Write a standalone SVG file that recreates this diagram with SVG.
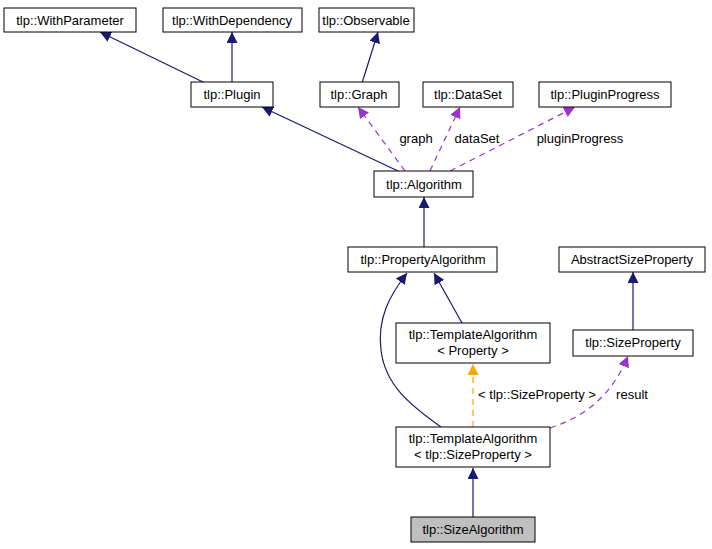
<svg xmlns="http://www.w3.org/2000/svg" width="712" height="549" viewBox="0 0 712 549">
<style>
rect{fill:#fff;stroke:#000;stroke-width:1}
text{font-family:"Liberation Sans",Arial,sans-serif;font-size:13px;text-anchor:middle;fill:#000}
.e{fill:none;stroke:#191970;stroke-width:1.2}
.p{fill:none;stroke:#9a32cd;stroke-width:1.2;stroke-dasharray:6,5}
.o{fill:none;stroke:#ffa500;stroke-width:1.2;stroke-dasharray:6,5}
</style>
<defs>
<marker id="ab" viewBox="0 0 10 10" refX="10" refY="5" markerWidth="11" markerHeight="11" markerUnits="userSpaceOnUse" orient="auto"><path d="M0,0L10,5L0,10z" fill="#191970"/></marker>
<marker id="ap" viewBox="0 0 10 10" refX="10" refY="5" markerWidth="11" markerHeight="11" markerUnits="userSpaceOnUse" orient="auto"><path d="M0,0L10,5L0,10z" fill="#9a32cd"/></marker>
<marker id="ao" viewBox="0 0 10 10" refX="10" refY="5" markerWidth="11" markerHeight="11" markerUnits="userSpaceOnUse" orient="auto"><path d="M0,0L10,5L0,10z" fill="#ffa500"/></marker>
</defs>
<g id="connectors">
<path class="e" d="M205,83L100,32" marker-end="url(#ab)"/>
<path class="e" d="M232,83L232,32" marker-end="url(#ab)"/>
<path class="e" d="M362,83L378,32" marker-end="url(#ab)"/>
<path class="e" d="M398,171L262,107" marker-end="url(#ab)"/>
<path class="p" d="M405,171L358,107" marker-end="url(#ap)"/>
<path class="p" d="M430,171L460,107" marker-end="url(#ap)"/>
<path class="p" d="M450,171L575,107" marker-end="url(#ap)"/>
<path class="e" d="M424,247L424,197" marker-end="url(#ab)"/>
<path class="e" d="M462,323L434,273" marker-end="url(#ab)"/>
<path class="e" d="M441,427C410,405 385,385 381,350C377,318 390,295 407,273" marker-end="url(#ab)"/>
<path class="e" d="M633,330L633,272" marker-end="url(#ab)"/>
<path class="o" d="M473,427L473,364" marker-end="url(#ao)"/>
<path class="p" d="M550,428C580,418 610,400 628,356" marker-end="url(#ap)"/>
<path class="e" d="M473,517L473,468" marker-end="url(#ab)"/>
<text x="416" y="143">graph</text>
<text x="477" y="143">dataSet</text>
<text x="580" y="143">pluginProgress</text>
<text x="537" y="399">&lt; tlp::SizeProperty &gt;</text>
<text x="632" y="399">result</text>
</g>
<g id="n1"><rect x="4" y="8" width="132" height="24"/><text x="70" y="25">tlp::WithParameter</text></g>
<g id="n2"><rect x="163" y="8" width="139" height="24"/><text x="232" y="25">tlp::WithDependency</text></g>
<g id="n3"><rect x="319" y="8" width="95" height="24"/><text x="366" y="25">tlp::Observable</text></g>
<g id="n4"><rect x="191" y="82" width="82" height="25"/><text x="232" y="99">tlp::Plugin</text></g>
<g id="n5"><rect x="320" y="82" width="79" height="25"/><text x="359" y="99">tlp::Graph</text></g>
<g id="n6"><rect x="423" y="82" width="90" height="25"/><text x="468" y="99">tlp::DataSet</text></g>
<g id="n7"><rect x="539" y="82" width="132" height="25"/><text x="605" y="99">tlp::PluginProgress</text></g>
<g id="n8"><rect x="374" y="171" width="99" height="26"/><text x="424" y="189">tlp::Algorithm</text></g>
<g id="n9"><rect x="348" y="247" width="149" height="25"/><text x="423" y="264">tlp::PropertyAlgorithm</text></g>
<g id="n10"><rect x="559" y="247" width="146" height="25"/><text x="632" y="264">AbstractSizeProperty</text></g>
<g id="n11"><rect x="396" y="323" width="154" height="40"/><text x="473" y="339">tlp::TemplateAlgorithm</text><text x="473" y="355">&lt; Property &gt;</text></g>
<g id="n12"><rect x="573" y="330" width="120" height="26"/><text x="633" y="347">tlp::SizeProperty</text></g>
<g id="n13"><rect x="396" y="427" width="154" height="40"/><text x="473" y="443">tlp::TemplateAlgorithm</text><text x="473" y="459">&lt; tlp::SizeProperty &gt;</text></g>
<g id="n14"><rect x="411" y="517" width="124" height="25" style="fill:#bfbfbf"/><text x="473" y="534">tlp::SizeAlgorithm</text></g>
</svg>
